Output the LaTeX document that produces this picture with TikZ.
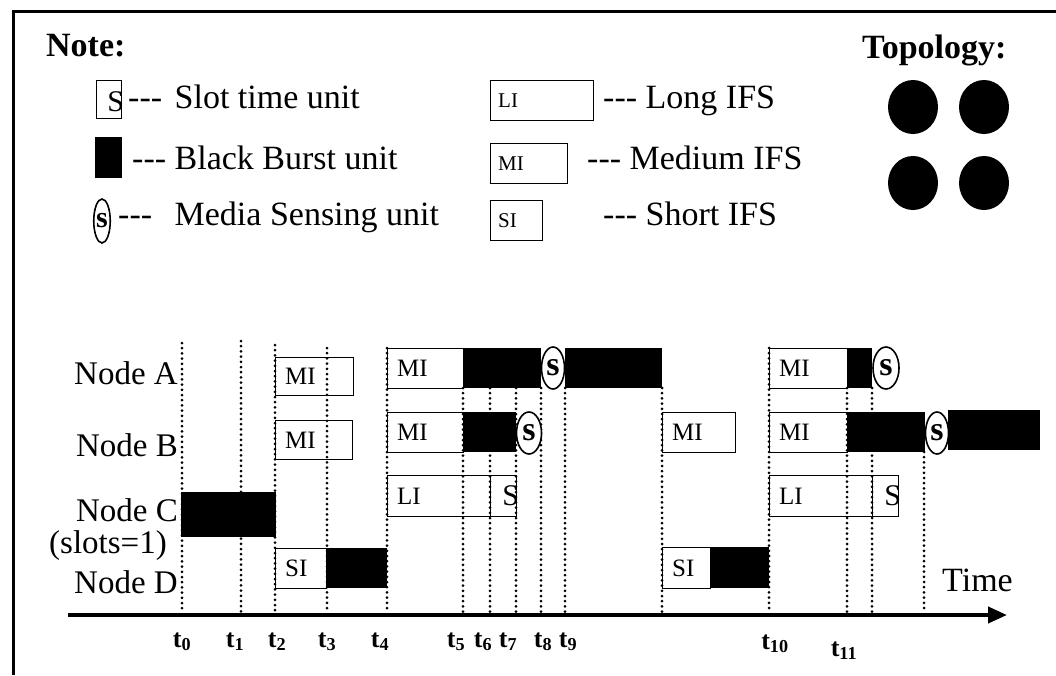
\documentclass[tikz,border=0pt]{standalone}
\usepackage{fontspec}
\setmainfont{Liberation Serif}
\usetikzlibrary{shapes.geometric,arrows.meta,positioning}
\newcommand{\hy}{\mbox{-}\mbox{-}\mbox{-}}
\newcommand{\fsz}[1]{\fontsize{#1}{#1}\selectfont}

\begin{document}
\begin{tikzpicture}[
  x=1pt,y=-1pt,
  heading/.style={font=\bfseries\fsz{34},anchor=base west,inner sep=0pt},
  legend/.style={font=\fsz{34},anchor=base west,inner sep=0pt},
  rowlabel/.style={font=\fsz{33},anchor=base east,inner sep=0pt},
  ifs/.style={draw,line width=1.3pt,anchor=north west,inner sep=0pt},
  burst/.style={fill=black,anchor=north west,inner sep=0pt},
  sense/.style={ellipse,draw,line width=1.6pt,fill=white,inner sep=0pt,minimum width=23pt,minimum height=42pt,font=\bfseries\fsz{34}},
  ifstext/.style={font=\fsz{25},inner sep=0pt,anchor=west},
  keytext/.style={font=\fsz{21},inner sep=0pt,anchor=west},
  slottext/.style={font=\fsz{30},inner sep=0pt,anchor=east},
  tline/.style={line width=3pt,dash pattern=on 0pt off 5.2pt,line cap=round},
  tlabel/.style={font=\bfseries\fsz{26},inner sep=0pt,anchor=base},
  station/.style={ellipse,fill=black,minimum width=50pt,minimum height=54pt,inner sep=0pt},
  timeaxis/.style={line width=4pt,-{Triangle[length=19pt,width=16pt]}}
]
  \useasboundingbox (0,0) rectangle (1056,675);
  \draw[line width=3pt] (1056,11) -- (13,11) -- (13,675);

  % legend
  \node[heading] (note) at (46,56) {Note:};
  \node[heading] (topo) at (862,58) {Topology:};

  \node[ifs,minimum width=25pt,minimum height=38pt] (keyslot) at (96,80) {};
  \node[slottext,left=-2pt of keyslot.east,yshift=-2pt] (keyslotS) {S};
  \node[burst,minimum width=27pt,minimum height=41pt] (keyburst) at (95,137) {};
  \node[sense,minimum width=16pt,minimum height=44pt,font=\bfseries\fsz{30}] (keysense) at (102,221) {s};
  \node[legend] (slotdesc) at (128,108) {\hy\hspace{4pt} Slot time unit};
  \node[legend] (burstdesc) at (132,169) {\hy{} Black Burst unit};
  \node[legend] (sensedesc) at (118,225) {\hy\hspace{14pt} Media Sensing unit};

  \node[ifs,minimum width=103pt,minimum height=40pt] (keyli) at (490,80) {};
  \node[keytext,right=8pt of keyli.west] (keyliT) {LI};
  \node[ifs,minimum width=77pt,minimum height=40pt] (keymi) at (490,143) {};
  \node[keytext,right=8pt of keymi.west] (keymiT) {MI};
  \node[ifs,minimum width=52pt,minimum height=40pt] (keysi) at (490,200) {};
  \node[keytext,right=8pt of keysi.west] (keysiT) {SI};
  \node[legend] (lidesc) at (603,108) {\hy{} Long IFS};
  \node[legend] (midesc) at (587,169) {\hy{} Medium IFS};
  \node[legend] (sidesc) at (603,225) {\hy{} Short IFS};

  \node[station] (sta1) at (913,107) {};
  \node[station] (sta2) at (984,107) {};
  \node[station] (sta3) at (913,183) {};
  \node[station] (sta4) at (984,183) {};

  % time lines
  \draw[tline] (182,343) -- (182,613);
  \draw[tline] (241,341) -- (241,613);
  \draw[tline] (275,345) -- (275,613);
  \draw[tline] (327,348) -- (327,613);
  \draw[tline] (387,348) -- (387,613);
  \draw[tline] (463,388) -- (463,613);
  \draw[tline] (490,388) -- (490,613);
  \draw[tline] (516,388) -- (516,613);
  \draw[tline] (541,388) -- (541,613);
  \draw[tline] (565,388) -- (565,613);
  \draw[tline] (662,388) -- (662,613);
  \draw[tline] (769,348) -- (769,613);
  \draw[tline] (847,388) -- (847,613);
  \draw[tline] (872,388) -- (872,613);
  \draw[tline] (924,452) -- (924,613);

  \coordinate (axisL) at (68,615);
  \coordinate (axisR) at (1007,615);
  \draw[timeaxis] (axisL) -- (axisR);
  \node[font=\fsz{34},anchor=base west,inner sep=0pt] (time) at (942,591) {Time};

  \node[tlabel] (t0) at (182,647) {t\textsubscript{0}};
  \node[tlabel] (t1) at (235,647) {t\textsubscript{1}};
  \node[tlabel] (t2) at (277,647) {t\textsubscript{2}};
  \node[tlabel] (t3) at (327,647) {t\textsubscript{3}};
  \node[tlabel] (t4) at (380,647) {t\textsubscript{4}};
  \node[tlabel] (t5) at (456,647) {t\textsubscript{5}};
  \node[tlabel] (t6) at (483,647) {t\textsubscript{6}};
  \node[tlabel] (t7) at (508,647) {t\textsubscript{7}};
  \node[tlabel] (t8) at (543,647) {t\textsubscript{8}};
  \node[tlabel] (t9) at (568,647) {t\textsubscript{9}};
  \node[tlabel] (t10) at (775,649) {t\textsubscript{10}};
  \node[tlabel] (t11) at (844,656) {t\textsubscript{11}};

  % stations
  \node[rowlabel] (nodeA) at (178,384) {Node A};
  \node[rowlabel] (nodeB) at (178,456) {Node B};
  \node[rowlabel] (nodeC) at (178,521) {Node C};
  \node[rowlabel] (slotsC) at (167,553) {(slots=1)};
  \node[rowlabel] (nodeD) at (178,593) {Node D};

  % node A
  \node[ifs,minimum width=78pt,minimum height=38pt] (a1) at (275,357) {};
  \node[ifstext,right=10pt of a1.west] (a1T) {MI};
  \node[ifs,minimum width=76pt,minimum height=40pt] (a2) at (387,348) {};
  \node[ifstext,right=10pt of a2.west] (a2T) {MI};
  \node[burst,minimum width=78pt,minimum height=40pt] (a2bb) at (463,348) {};
  \node[burst,minimum width=97pt,minimum height=40pt] (a2bb2) at (565,348) {};
  \node[sense] (a2s) at (553,368) {s};
  \node[ifs,minimum width=78pt,minimum height=40pt] (a3) at (769,348) {};
  \node[ifstext,right=10pt of a3.west] (a3T) {MI};
  \node[burst,minimum width=25pt,minimum height=40pt] (a3bb) at (847,348) {};
  \node[sense,minimum width=26pt] (a3s) at (886,368) {s};

  % node B
  \node[ifs,minimum width=77pt,minimum height=39pt] (b1) at (275,420) {};
  \node[ifstext,right=10pt of b1.west] (b1T) {MI};
  \node[ifs,minimum width=76pt,minimum height=40pt] (b2) at (387,412) {};
  \node[ifstext,right=10pt of b2.west] (b2T) {MI};
  \node[burst,minimum width=53pt,minimum height=40pt] (b2bb) at (463,412) {};
  \node[sense,minimum width=25pt] (b2s) at (529,433) {s};
  \node[ifs,minimum width=73pt,minimum height=40pt] (b3) at (662,412) {};
  \node[ifstext,right=10pt of b3.west] (b3T) {MI};
  \node[ifs,minimum width=78pt,minimum height=40pt] (b4) at (769,412) {};
  \node[ifstext,right=10pt of b4.west] (b4T) {MI};
  \node[burst,minimum width=78pt,minimum height=40pt] (b4bb) at (847,412) {};
  \node[burst,minimum width=92pt,minimum height=40pt] (b4bb2) at (948,410) {};
  \node[sense] (b4s) at (937,433) {s};

  % node C
  \node[burst,minimum width=95pt,minimum height=45pt] (c1bb) at (181,492) {};
  \node[ifs,minimum width=103pt,minimum height=41pt] (c2) at (387,475) {};
  \node[ifstext,right=10pt of c2.west] (c2T) {LI};
  \node[ifs,minimum width=26pt,minimum height=41pt] (c2s) at (490,475) {};
  \node[slottext,left=-2pt of c2s.east] (c2sT) {S};
  \node[ifs,minimum width=103pt,minimum height=41pt] (c3) at (769,475) {};
  \node[ifstext,right=10pt of c3.west] (c3T) {LI};
  \node[ifs,minimum width=26pt,minimum height=41pt] (c3s) at (872,475) {};
  \node[slottext,left=-2pt of c3s.east] (c3sT) {S};

  % node D
  \node[ifs,minimum width=51pt,minimum height=40pt] (d1) at (275,548) {};
  \node[ifstext,right=10pt of d1.west] (d1T) {SI};
  \node[burst,minimum width=61pt,minimum height=40pt] (d1bb) at (326,548) {};
  \node[ifs,minimum width=48pt,minimum height=41pt] (d2) at (662,547) {};
  \node[ifstext,right=10pt of d2.west] (d2T) {SI};
  \node[burst,minimum width=59pt,minimum height=41pt] (d2bb) at (710,547) {};
\end{tikzpicture}
\end{document}
